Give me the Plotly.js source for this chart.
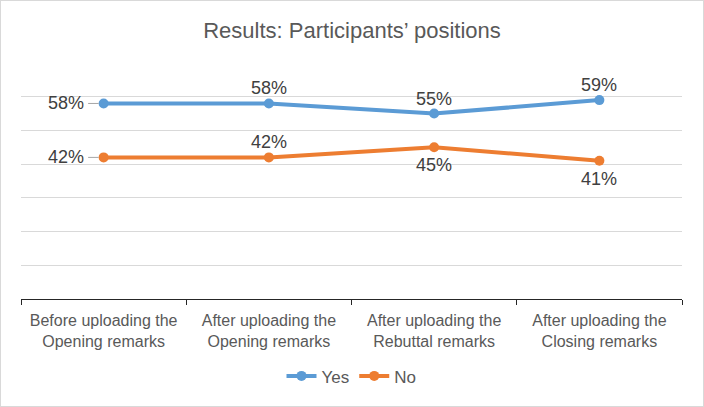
<!DOCTYPE html>
<html>
<head>
<meta charset="utf-8">
<script src="https://cdn.plot.ly/plotly-3.0.1.min.js"></script>
<style>
  html, body { margin: 0; padding: 0; background: #fff; }
  #wrap { width: 704px; height: 407px; box-sizing: border-box; border: 1px solid #d9d9d9; }
  #chart { width: 702px; height: 405px; }
</style>
</head>
<body>
<div id="wrap"><div id="chart"></div></div>
<script>
const categories = [
  "Before uploading the<br>Opening remarks",
  "After uploading the<br>Opening remarks",
  "After uploading the<br>Rebuttal remarks",
  "After uploading the<br>Closing remarks"
];
const yesValues = [0.58, 0.58, 0.55, 0.59];
const noValues = [0.42, 0.42, 0.45, 0.41];
const seriesNames = ["Yes", "No"];

// label placement (style only)
const yesPlace = ["left", "above", "above", "above"];
const noPlace = ["left", "above", "below", "below"];

const FONT = "Liberation Sans, Arial, sans-serif";
const colors = ["#5b9bd5", "#ed7d31"];

function trace(vals, name, color) {
  return {
    x: categories, y: vals, name: name, type: "scatter", mode: "lines+markers",
    line: { color: color, width: 4 },
    marker: { color: color, size: 10 },
    hoverinfo: "skip"
  };
}

const annotations = [];
function addLabels(vals, place) {
  vals.forEach((v, i) => {
    const txt = Math.round(v * 100) + "%";
    const a = {
      x: categories[i], y: v, xref: "x", yref: "y", text: txt,
      font: { family: FONT, size: 18, color: "#404040" }
    };
    if (place[i] === "left") {
      Object.assign(a, { showarrow: true, ax: -38, ay: 0, arrowhead: 0, arrowwidth: 1,
        arrowcolor: "#a6a6a6", standoff: 5, borderpad: 4 });
    } else {
      Object.assign(a, { showarrow: false, yshift: place[i] === "above" ? 15 : -18 });
    }
    annotations.push(a);
  });
}
addLabels(yesValues, yesPlace);
addLabels(noValues, noPlace);

const layout = {
  width: 702, height: 405,
  margin: { l: 20, r: 21, t: 62, b: 105 },
  paper_bgcolor: "#fff", plot_bgcolor: "#fff",
  font: { family: FONT, color: "#595959" },
  title: { text: "Results: Participants’ positions", font: { family: FONT, size: 22, color: "#595959" },
    x: 0.5, xanchor: "center", y: 1 - 29 / 405, yanchor: "middle", yref: "container" },
  xaxis: {
    type: "category", range: [-0.5, 3.5], fixedrange: true,
    showline: true, linecolor: "#262626", linewidth: 1,
    ticks: "outside", tickson: "boundaries", ticklen: 5, tickcolor: "#262626",
    ticklabelstandoff: 7,
    showgrid: false, zeroline: false,
    tickfont: { family: FONT, size: 16, color: "#595959" }
  },
  yaxis: {
    range: [0, 0.7], dtick: 0.1, tick0: 0, showticklabels: false, ticks: "",
    showgrid: true, gridcolor: "#d9d9d9", gridwidth: 1, zeroline: false, showline: false, fixedrange: true
  },
  showlegend: true,
  legend: { orientation: "h", x: 0.5, xanchor: "center", y: -78 / 238, yanchor: "middle",
    font: { family: FONT, size: 17, color: "#595959" }, itemwidth: 30, traceorder: "normal" },
  annotations: annotations
};

Plotly.newPlot("chart", [trace(yesValues, seriesNames[0], colors[0]), trace(noValues, seriesNames[1], colors[1])], layout,
  { displayModeBar: false, staticPlot: true });
</script>
</body>
</html>
